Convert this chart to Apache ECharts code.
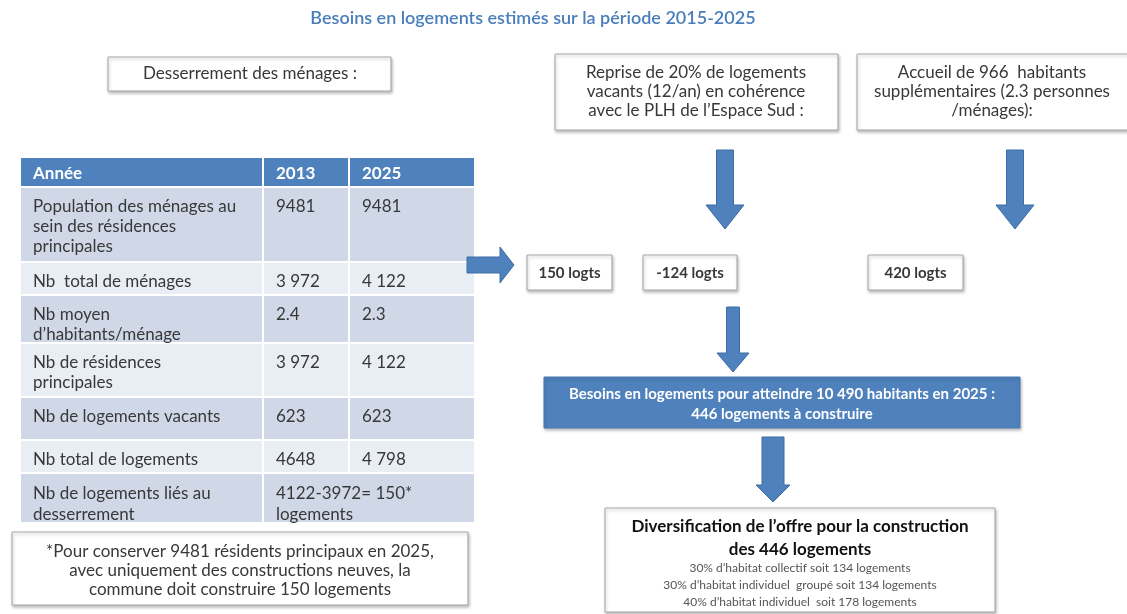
<!DOCTYPE html>
<html><head><meta charset="utf-8">
<script src="https://cdn.jsdelivr.net/npm/echarts@6/dist/echarts.min.js"></script>
<style>html,body{margin:0;padding:0;background:#fff}#c{width:1127px;height:614px}</style>
</head><body><div id="c"></div>
<script>
// ---- data ----
const chartTitle = 'Besoins en logements estimés sur la période 2015-2025';
const tableHeader = ['Année', '2013', '2025'];
const rowLabels = [
  'Population des ménages au\nsein des résidences\nprincipales',
  'Nb  total de ménages',
  'Nb moyen\nd\u2019habitants/ménage',
  'Nb de résidences\nprincipales',
  'Nb de logements vacants',
  'Nb total de logements',
  'Nb de logements liés au\ndesserrement'
];
const values2013 = ['9481', '3 972', '2.4', '3 972', '623', '4648', '4122-3972= 150*\nlogements'];
const values2025 = ['9481', '4 122', '2.3', '4 122', '623', '4 798', null];
const footnote = '*Pour conserver 9481 résidents principaux en 2025,\navec uniquement des constructions neuves, la\ncommune doit construire 150 logements';
const headBoxes = [
  'Desserrement des ménages :',
  'Reprise de 20% de logements\nvacants (12/an) en cohérence\navec le PLH de l\u2019Espace Sud :',
  'Accueil de 966  habitants\nsupplémentaires (2.3 personnes\n/ménages):'
];
const logtsLabels = ['150 logts', '-124 logts', '420 logts'];
const totalText = 'Besoins en logements pour atteindre 10 490 habitants en 2025 :\n446 logements à construire';
const diversTitle = 'Diversification de l\u2019offre pour la construction\ndes 446 logements';
const diversLines = [
  '30% d\u2019habitat collectif soit 134 logements',
  '30% d\u2019habitat individuel  groupé soit 134 logements',
  '40% d\u2019habitat individuel  soit 178 logements'
];

// ---- layout ----
const FONT = 'Lato, "Open Sans", sans-serif';
const BLUE = '#4f81bd';
const colX = [20, 263, 349, 475];
const rowY = [157, 187, 262, 295, 343, 397, 440, 473, 523];
const g = [];
const shadow = {shadowBlur: 3, shadowOffsetX: 1, shadowOffsetY: 2, shadowColor: 'rgba(0,0,0,0.25)'};

function text(x, y, t, o) {
  o = o || {};
  g.push({type: 'text', x: x, y: y, z: 10, style: Object.assign({
    text: t, fill: '#383838', font: (o.weight || 'normal') + ' ' + (o.size || 15) + 'px ' + FONT,
    align: o.align || 'left', verticalAlign: o.va || 'top', lineHeight: o.lh || 20
  }, o.style || {})});
}
function box(x, y, w, h, fill, stroke, sh) {
  g.push({type: 'rect', shape: {x: x, y: y, width: w, height: h}, z: 5,
    style: Object.assign({fill: fill, stroke: stroke || '#a6a6a6', lineWidth: 1}, sh ? shadow : {})});
}
function arrowRight(x0, xh, x1, yc, sw, hw) {
  g.push({type: 'polygon', z: 6, shape: {points: [
    [x0, yc - sw / 2], [xh, yc - sw / 2], [xh, yc - hw / 2], [x1, yc], [xh, yc + hw / 2], [xh, yc + sw / 2], [x0, yc + sw / 2]
  ]}, style: {fill: BLUE, stroke: '#3d6ca6', lineWidth: 1}});
}
function arrowDown(xc, y0, yh, y1, sw, hw) {
  g.push({type: 'polygon', z: 6, shape: {points: [
    [xc - sw / 2, y0], [xc + sw / 2, y0], [xc + sw / 2, yh], [xc + hw / 2, yh], [xc, y1], [xc - hw / 2, yh], [xc - sw / 2, yh]
  ]}, style: {fill: BLUE, stroke: '#3d6ca6', lineWidth: 1}});
}

// title
text(533, 18, chartTitle, {size: 18, weight: '600', align: 'center', va: 'middle', style: {fill: '#4a7ebb'}});

// top boxes
box(108, 57, 283, 34, '#fff', '#a6a6a6', true);
text(250, 74, headBoxes[0], {size: 17, align: 'center', va: 'middle'});
box(555, 54, 283, 76, '#fff', '#a6a6a6', true);
text(696, 92, headBoxes[1], {size: 17, align: 'center', va: 'middle', lh: 19});
box(857, 54, 280, 76, '#fff', '#a6a6a6', true);
text(992, 92, headBoxes[2], {size: 17, align: 'center', va: 'middle', lh: 19});

// top arrows
arrowDown(725, 150, 205, 229, 17, 38);
arrowDown(1015, 150, 205, 229, 17, 38);

// table
const rows = [tableHeader].concat(rowLabels.map((l, i) => [l, values2013[i], values2025[i]]));
rows.forEach((r, i) => {
  const y0 = rowY[i], h = rowY[i + 1] - rowY[i];
  const fill = i === 0 ? BLUE : (i % 2 === 1 ? '#d0d8e8' : '#e9edf4');
  const merged = r[2] === null;
  const cells = merged ? [[colX[0], colX[1]], [colX[1], colX[3]]] : [[colX[0], colX[1]], [colX[1], colX[2]], [colX[2], colX[3]]];
  cells.forEach((c, j) => {
    g.push({type: 'rect', z: 4, shape: {x: c[0], y: y0, width: c[1] - c[0], height: h},
      style: {fill: fill, stroke: '#fff', lineWidth: 2}});
    text(c[0] + 13, y0 + (i === 0 ? 7 : 10), r[j], {size: 17, weight: i === 0 ? 'bold' : 'normal', lh: i === 7 ? 21 : 20,
      style: {fill: i === 0 ? '#fff' : '#383838'}});
  });
});

// footnote
box(12, 532, 456, 73, '#fff', '#a6a6a6', true);
text(240, 571, footnote, {size: 17, align: 'center', va: 'middle', lh: 19});

// right arrow
arrowRight(467, 500, 514, 265, 16, 36);

// logts boxes
const lx = [[527, 612], [643, 737], [868, 963]];
logtsLabels.forEach((l, i) => {
  box(lx[i][0], 255, lx[i][1] - lx[i][0], 35, '#fff', '#a6a6a6', true);
  text((lx[i][0] + lx[i][1]) / 2, 273, l, {size: 15, weight: 'bold', align: 'center', va: 'middle'});
});

// middle arrow
arrowDown(733, 307, 353, 372, 13, 32);

// blue box
box(544, 377, 476, 51, BLUE, '#4a7ab3', true);
text(782, 404, totalText, {size: 15, weight: 'bold', align: 'center', va: 'middle', style: {fill: '#fff'}});

// lower arrow
arrowDown(773, 437, 485, 502, 22, 34);

// diversification box
box(605, 508, 390, 104, '#fff', '#a6a6a6', true);
text(800, 538, diversTitle, {size: 17, weight: 'bold', align: 'center', va: 'middle', lh: 23, style: {fill: '#111'}});
diversLines.forEach((l, i) => {
  text(800, 568 + i * 17, l, {size: 12, align: 'center', va: 'middle', lh: 14, style: {fill: '#555'}});
});

const chart = echarts.init(document.getElementById('c'), null, {renderer: 'canvas'});
chart.setOption({backgroundColor: '#fff', animation: false, graphic: {elements: g}});
</script></body></html>
